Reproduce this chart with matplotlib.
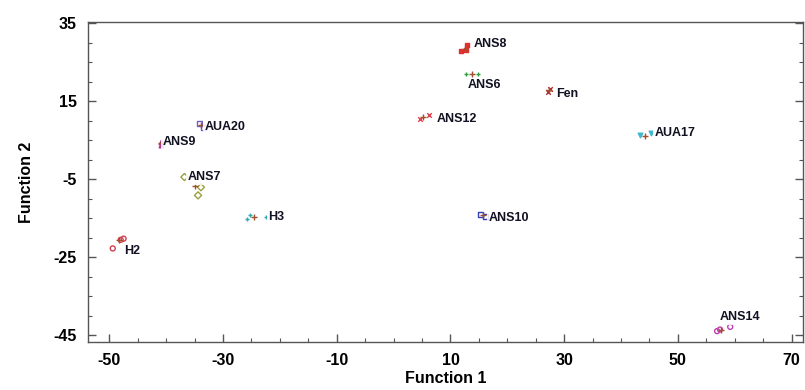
import matplotlib
matplotlib.use('Agg')
import matplotlib.pyplot as plt
from matplotlib.ticker import MultipleLocator

plt.rcParams['font.family'] = ['Liberation Sans Narrow', 'Liberation Sans', 'DejaVu Sans']
plt.rcParams['font.weight'] = 'bold'
plt.rcParams['axes.unicode_minus'] = False

# group members (function 1, function 2)
groups = ['ANS9', 'AUA20', 'ANS7', 'H3', 'H2', 'ANS8', 'ANS6', 'Fen', 'ANS12', 'ANS10', 'AUA17', 'ANS14']
f1_vals = [
    [-41.0, -40.9],
    [-34.1, -33.4],
    [-36.8, -33.9, -34.4],
    [-25.8, -25.3, -22.5],
    [-49.4, -48.0, -47.5],
    [11.9, 12.9, 12.7],
    [12.8, 14.8],
    [27.2, 27.5],
    [4.6, 6.2],
    [15.2, 16.1],
    [43.4, 45.3],
    [56.9, 57.4, 59.2],
]
f2_vals = [
    [4.6, 3.8],
    [9.3, 8.3],
    [-4.5, -7.1, -9.2],
    [-15.3, -14.2, -14.7],
    [-22.8, -20.6, -20.3],
    [27.7, 29.4, 28.2],
    [21.8, 21.8],
    [17.4, 18.2],
    [10.4, 11.3],
    [-14.2, -14.5],
    [6.4, 6.7],
    [-44.0, -43.6, -42.9],
]
# group centroids
cent_f1 = [-40.9, -33.8, -35.0, -24.6, -48.3, 12.6, 13.8, 27.4, 5.1, 15.7, 44.3, 57.6]
cent_f2 = [4.2, 8.8, -6.8, -14.7, -20.6, 28.4, 21.8, 17.8, 10.8, -14.3, 6.0, -43.6]
label_f1 = [-40.6, -33.2, -36.2, -22.0, -47.4, 14.1, 13.0, 28.5, 7.5, 16.7, 46.0, 57.4]
label_f2 = [4.4, 8.4, -4.6, -14.8, -23.4, 29.6, 19.0, 16.9, 10.4, -14.9, 6.9, -40.5]

colors = ['#b0309a', '#7060c0', '#9aa040', '#30a8b0', '#d04050', '#e03030',
          '#30a040', '#b03030', '#e04050', '#3040b0', '#40b8d0', '#c040b0']
markers = ['^', 's', 'D', '+', 'o', 's', '+', 'x', 'x', 's', 'v', 'o']
filled = [True, False, False, True, False, True, True, True, True, False, True, False]

fig = plt.figure(figsize=(8.05, 3.9), dpi=100)
ax = fig.add_axes([0.109, 0.123, 0.8885, 0.821])

for i, g in enumerate(groups):
    if filled[i] or markers[i] in ('+', 'x'):
        ax.scatter(f1_vals[i], f2_vals[i], marker=markers[i], s=11, c=colors[i], linewidths=1.0, zorder=3)
    else:
        ax.scatter(f1_vals[i], f2_vals[i], marker=markers[i], s=13, facecolors='none',
                   edgecolors=colors[i], linewidths=1.0, zorder=3)
    ax.scatter(cent_f1[i], cent_f2[i], marker='+', s=16, c='#a0502a', linewidths=1.0, zorder=4)
    ax.text(label_f1[i], label_f2[i], g, fontsize=9, fontweight='bold', va='center', ha='left',
            color='#111122', zorder=5,
            bbox=dict(boxstyle='square,pad=0.15', fc='white', ec='none', alpha=0.85))

ax.set_xlim(-53.8, 72.0)
ax.set_ylim(-46.8, 35.3)
ax.xaxis.set_minor_locator(MultipleLocator(5))
ax.yaxis.set_minor_locator(MultipleLocator(5))
ax.set_xticks([-50, -30, -10, 10, 30, 50, 70])
ax.set_yticks([35, 15, -5, -25, -45])
ax.tick_params(which='both', direction='in', color='#555555', top=False, right=True)
ax.tick_params(which='major', length=6, width=1, labelsize=11.5, pad=8)
ax.tick_params(which='minor', length=3, width=0.8)
ax.tick_params(axis='y', labelright=False)
for lab in ax.get_xticklabels() + ax.get_yticklabels():
    lab.set_fontweight('bold')
for sp in ax.spines.values():
    sp.set_color('#555555')
    sp.set_linewidth(1.0)

ax.set_xlabel('Function 1', fontsize=11.5, fontweight='bold', labelpad=2)
ax.set_ylabel('Function 2', fontsize=11.5, fontweight='bold', labelpad=14)

fig.savefig('out.png', dpi=100)
